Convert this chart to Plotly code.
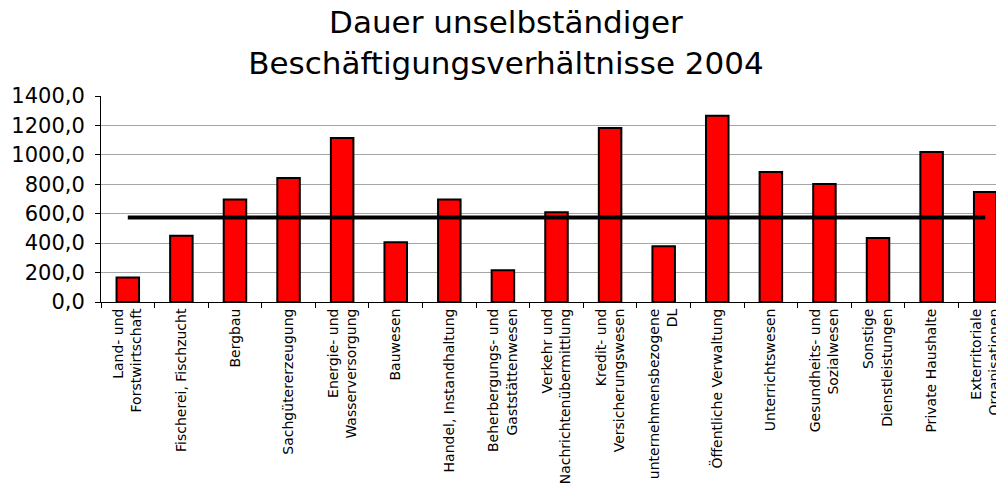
import plotly.graph_objects as go

# Dauer unselbständiger Beschäftigungsverhältnisse 2004 (Tage)
branchen = [
    "Land- und<br>Forstwirtschaft",
    "Fischerei, Fischzucht",
    "Bergbau",
    "Sachgütererzeugung",
    "Energie- und<br>Wasserversorgung",
    "Bauwesen",
    "Handel, Instandhaltung",
    "Beherbergungs- und<br>Gaststättenwesen",
    "Verkehr und<br>Nachrichtenübermittlung",
    "Kredit- und<br>Versicherungswesen",
    "unternehmensbezogene<br>DL",
    "Öffentliche Verwaltung",
    "Unterrichtswesen",
    "Gesundheits- und<br>Sozialwesen",
    "Sonstige<br>Dienstleistungen",
    "Private Haushalte",
    "Exterritoriale<br>Organisationen",
]
dauer = [166, 451, 696, 843, 1115, 406, 696, 215, 610, 1183, 379, 1265, 884, 802, 435, 1020, 748]
durchschnitt = [574] * len(branchen)

fig = go.Figure()
fig.add_trace(
    go.Bar(
        x=branchen,
        y=dauer,
        width=0.42,
        marker=dict(color='#ff0000', line=dict(color='black', width=2)),
    )
)
fig.add_trace(
    go.Scatter(
        x=branchen,
        y=durchschnitt,
        mode='lines',
        line=dict(color='black', width=4),
    )
)

# page body has an 8px margin, so margins are 8px smaller than the target
fig.update_layout(
    width=1004, height=487,
    margin=dict(l=93, r=0, t=88, b=193, autoexpand=False),
    paper_bgcolor='white', plot_bgcolor='white',
    showlegend=False,
    separators=', ',
    font=dict(family='Liberation Sans, Arial, sans-serif', color='black'),
    title=dict(
        text='Dauer unselbständiger<br>Beschäftigungsverhältnisse 2004',
        x=0.496, xanchor='center', y=0.948, yanchor='top',
        font=dict(family='DejaVu Sans, sans-serif', size=31, color='black'),
    ),
)
fig.update_xaxes(
    type='category',
    range=[-0.5, 16.5],
    automargin=False,
    showline=True, linecolor='black', linewidth=1,
    ticks='outside', ticklen=5, tickcolor='black',
    tickson='boundaries',
    tickangle=-90,
    tickfont=dict(family='DejaVu Sans, sans-serif', size=14),
    showgrid=False,
)
fig.update_yaxes(
    range=[0, 1400], dtick=200,
    tickformat='.1f',
    automargin=False,
    showline=True, linecolor='black', linewidth=1,
    ticks='outside', ticklen=5, tickcolor='black',
    ticklabelstandoff=6,
    gridcolor='#a6a6a6', gridwidth=1,
    tickfont=dict(family='DejaVu Sans, sans-serif', size=21),
    zeroline=False,
)

fig.write_html("out.html")
